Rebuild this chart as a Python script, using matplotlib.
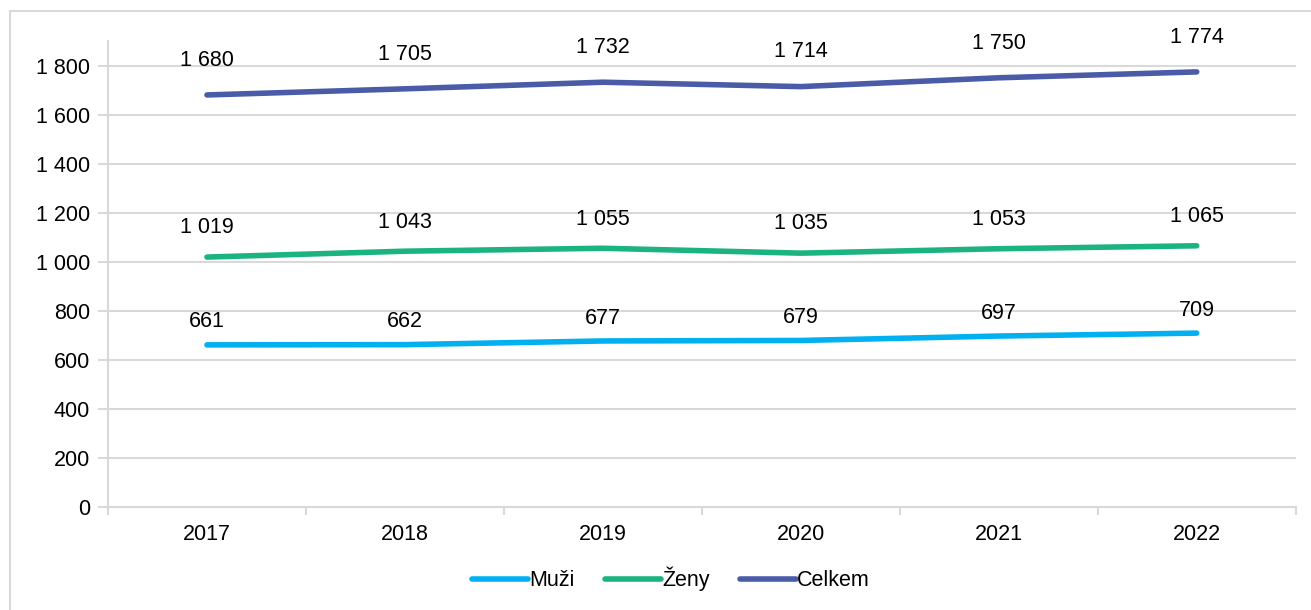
import numpy as np
import matplotlib.pyplot as plt
from matplotlib.patches import Rectangle
from matplotlib.ticker import FuncFormatter

plt.rcParams['font.family'] = ['Liberation Sans', 'DejaVu Sans']

years = ['2017', '2018', '2019', '2020', '2021', '2022']
muzi = [661, 662, 677, 679, 697, 709]
zeny = [1019, 1043, 1055, 1035, 1053, 1065]
celkem = [1680, 1705, 1732, 1714, 1750, 1774]

# name, values, colour, label offset (pt)
series = [('Muži', muzi, '#00B0F0', 16.5),
          ('Ženy', zeny, '#1BB37E', 21),
          ('Celkem', celkem, '#4A5BA8', 25)]

grid_c = '#D9D9D9'
fs = 15.5

fig = plt.figure(figsize=(13.11, 6.10), dpi=100)
fig.patches.append(Rectangle((10 / 1311, -0.1), 1.2, 1.1 - 11 / 610,
                             transform=fig.transFigure, fill=False,
                             ec=grid_c, lw=1.5, zorder=0))
ax = fig.add_axes([108 / 1311, 1 - 507 / 610, (1295.7 - 108) / 1311, (507 - 41) / 610])

x = np.arange(len(years))
for name, vals, col, off in series:
    ax.plot(x, vals, color=col, lw=4, solid_capstyle='round', label=name, zorder=3)
    for xi, v in zip(x, vals):
        ax.annotate(f'{v:,}'.replace(',', ' '), (xi, v), xytext=(0, off),
                    textcoords='offset points', ha='center', va='center',
                    fontsize=fs, color='black')

ax.set_xlim(-0.5, len(years) - 0.5)
ax.set_ylim(0, 1900)
ax.set_yticks(np.arange(0, 1801, 200))
ax.yaxis.set_major_formatter(FuncFormatter(lambda v, p: f'{int(v):,}'.replace(',', ' ')))
ax.grid(axis='y', color=grid_c, lw=1.5, zorder=0)

ax.set_xticks(x)
ax.set_xticklabels(years)
ax.set_xticks(np.arange(-0.5, len(years)), minor=True)
ax.tick_params(axis='x', which='major', length=0, pad=12, labelsize=fs)
ax.tick_params(axis='x', which='minor', length=6, width=1.5, color=grid_c)
ax.tick_params(axis='y', length=7, width=1.5, color=grid_c, pad=6, labelsize=fs)

for s in ['top', 'right']:
    ax.spines[s].set_visible(False)
for s in ['left', 'bottom']:
    ax.spines[s].set_color(grid_c)
    ax.spines[s].set_linewidth(1.5)

leg = fig.legend(loc='center', bbox_to_anchor=(671 / 1311, 1 - 579 / 610), ncol=3,
                 frameon=False, fontsize=fs, handlelength=2.6, handletextpad=0.05,
                 columnspacing=1.4)
for line in leg.get_lines():
    line.set_linewidth(4)
    line.set_solid_capstyle('round')

fig.savefig('out.png', dpi=100)
